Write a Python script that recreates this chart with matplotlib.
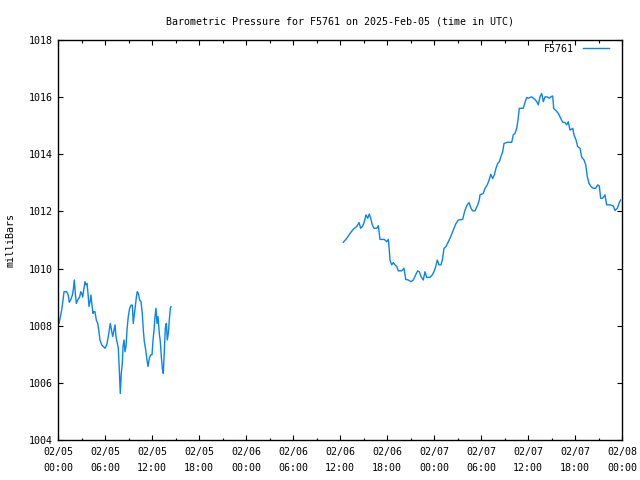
import pandas as pd
import matplotlib
matplotlib.use("Agg")
import matplotlib.pyplot as plt
import matplotlib.dates as mdates

station = "F5761"
start = pd.Timestamp("2025-02-05 00:00")

# hours after 02/05 00:00 UTC, pressure in mbar (first stretch of readings)
seg1_hours = [0.13, 0.47, 0.64, 0.77, 1.11, 1.31, 1.44, 1.62, 1.83, 1.95,
              2.08, 2.21, 2.34, 2.51, 2.76, 2.90, 3.03, 3.15, 3.28, 3.45,
              3.57, 3.70, 3.83, 3.96, 4.09, 4.21, 4.34, 4.47, 4.60, 4.72,
              4.89, 5.07, 5.20, 5.36, 5.58, 5.78, 6.00, 6.22, 6.42, 6.55,
              6.68, 6.86, 6.98, 7.15, 7.28, 7.40, 7.53, 7.70, 7.83, 7.95,
              8.08, 8.21, 8.30, 8.43, 8.55, 8.68, 8.81, 8.97, 9.15, 9.32,
              9.49, 9.61, 9.74, 9.87, 10.00, 10.12, 10.25, 10.43, 10.60, 10.76,
              10.89, 11.02, 11.20, 11.36, 11.49, 11.66, 11.83, 12.00, 12.13, 12.26,
              12.38, 12.51, 12.64, 12.77, 12.93, 13.06, 13.19, 13.32, 13.44, 13.57,
              13.70, 13.83, 13.95, 14.08, 14.21, 14.34, 14.43]
seg1_mbar = [1008.08, 1008.55, 1008.90, 1009.19, 1009.19, 1009.07, 1008.82, 1008.90, 1009.07, 1009.25,
             1009.60, 1009.13, 1008.78, 1008.90, 1009.00, 1009.19, 1009.13, 1009.00, 1009.25, 1009.54,
             1009.43, 1009.48, 1009.13, 1008.67, 1008.84, 1009.07, 1008.72, 1008.43, 1008.49, 1008.49,
             1008.20, 1008.08, 1007.85, 1007.50, 1007.33, 1007.27, 1007.21, 1007.33, 1007.62, 1007.85,
             1008.08, 1007.79, 1007.62, 1007.85, 1008.03, 1007.62, 1007.44, 1007.21, 1006.45, 1005.63,
             1006.33, 1006.68, 1007.27, 1007.50, 1007.09, 1007.27, 1007.85, 1008.32, 1008.61, 1008.72,
             1008.72, 1008.08, 1008.38, 1008.67, 1009.00, 1009.19, 1009.13, 1008.90, 1008.84, 1008.43,
             1007.85, 1007.44, 1007.15, 1006.80, 1006.57, 1006.86, 1006.98, 1006.98, 1007.50, 1007.85,
             1008.32, 1008.61, 1008.08, 1008.32, 1007.73, 1007.44, 1006.92, 1006.51, 1006.33, 1007.09,
             1007.91, 1008.08, 1007.50, 1007.73, 1008.20, 1008.61, 1008.67]

# second stretch, after the gap
seg2_hours = [36.42, 36.86, 37.28, 37.70, 38.13, 38.43, 38.64, 38.90, 39.10, 39.32,
              39.54, 39.74, 39.92, 40.12, 40.34, 40.69, 40.89, 41.11, 41.66, 41.96,
              42.17, 42.29, 42.38, 42.60, 42.80, 43.02, 43.24, 43.44, 43.88, 44.17,
              44.39, 44.72, 45.06, 45.36, 45.66, 45.92, 46.12, 46.34, 46.63, 46.85,
              47.07, 47.49, 47.78, 48.00, 48.22, 48.42, 48.64, 48.89, 49.06, 49.28,
              49.53, 49.83, 50.13, 50.46, 50.77, 51.10, 51.66, 51.96, 52.25, 52.47,
              52.72, 52.94, 53.23, 53.58, 53.78, 53.87, 54.29, 54.51, 54.80, 55.06,
              55.24, 55.49, 55.70, 55.91, 56.13, 56.34, 56.55, 56.77, 56.94, 57.36,
              57.92, 58.12, 58.34, 58.56, 58.72, 58.89, 59.40, 59.58, 59.83, 60.04,
              60.26, 60.47, 60.68, 60.89, 61.11, 61.31, 61.53, 61.75, 61.95, 62.17,
              62.46, 62.72, 62.90, 63.15, 63.28, 63.57, 63.87, 64.17, 64.43, 64.72,
              64.94, 65.14, 65.36, 65.58, 65.71, 65.87, 66.13, 66.34, 66.64, 66.85,
              67.15, 67.37, 67.57, 67.79, 68.04, 68.34, 68.64, 68.90, 69.10, 69.28,
              69.54, 69.83, 70.04, 70.47, 70.89, 71.11, 71.40, 71.66, 71.83]
seg2_mbar = [1010.92, 1011.06, 1011.23, 1011.38, 1011.47, 1011.61, 1011.41, 1011.49, 1011.64, 1011.88,
             1011.76, 1011.91, 1011.76, 1011.53, 1011.41, 1011.41, 1011.50, 1011.02, 1011.02, 1010.94,
             1011.02, 1010.65, 1010.30, 1010.13, 1010.21, 1010.13, 1010.07, 1009.92, 1009.92, 1010.01,
             1009.62, 1009.60, 1009.54, 1009.60, 1009.78, 1009.92, 1009.89, 1009.72, 1009.60, 1009.89,
             1009.69, 1009.69, 1009.78, 1009.89, 1010.07, 1010.30, 1010.13, 1010.13, 1010.30, 1010.71,
             1010.77, 1010.94, 1011.12, 1011.35, 1011.56, 1011.70, 1011.72, 1012.05, 1012.23, 1012.31,
             1012.11, 1012.02, 1012.02, 1012.23, 1012.40, 1012.58, 1012.63, 1012.81, 1012.93, 1013.12,
             1013.30, 1013.15, 1013.28, 1013.51, 1013.68, 1013.74, 1013.92, 1014.09, 1014.38, 1014.42,
             1014.42, 1014.68, 1014.73, 1014.91, 1015.20, 1015.61, 1015.61, 1015.78, 1015.99, 1015.96,
             1015.99, 1016.01, 1015.96, 1015.92, 1015.84, 1015.73, 1016.01, 1016.13, 1015.84, 1016.01,
             1016.01, 1015.96, 1016.01, 1016.04, 1015.61, 1015.53, 1015.43, 1015.26, 1015.12, 1015.11,
             1015.03, 1015.14, 1014.85, 1014.88, 1014.91, 1014.68, 1014.50, 1014.27, 1014.21, 1013.90,
             1013.80, 1013.63, 1013.22, 1012.98, 1012.87, 1012.81, 1012.81, 1012.93, 1012.89, 1012.46,
             1012.46, 1012.58, 1012.23, 1012.23, 1012.19, 1012.03, 1012.11, 1012.31, 1012.40]

y_ticks = [1004, 1006, 1008, 1010, 1012, 1014, 1016, 1018]

plt.rcParams['font.family'] = ['DejaVu Sans Mono']
plt.rcParams['font.size'] = 7.2

line_col = '#0a84f5'

fig = plt.figure(figsize=(6.4, 4.8), dpi=100)
ax = fig.add_axes([58 / 640, 40 / 480, 564 / 640, 400 / 480])

t1 = [start + pd.Timedelta(hours=h) for h in seg1_hours]
t2 = [start + pd.Timedelta(hours=h) for h in seg2_hours]
ax.plot(t1, seg1_mbar, color=line_col, lw=1, label=station)
ax.plot(t2, seg2_mbar, color=line_col, lw=1)

ax.set_xlim(start, start + pd.Timedelta(hours=72))
ax.set_ylim(1004, 1018)
ax.set_yticks(y_ticks)
ax.xaxis.set_major_locator(mdates.HourLocator(byhour=[0, 6, 12, 18]))
ax.xaxis.set_minor_locator(mdates.HourLocator(byhour=[3, 9, 15, 21]))
ax.xaxis.set_major_formatter(mdates.DateFormatter('%m/%d\n%H:%M'))

ax.tick_params(which='major', direction='in', length=3.3, width=0.8,
               top=True, right=True, pad=5, colors='black')
ax.tick_params(axis='y', which='major', pad=4)
ax.tick_params(which='minor', direction='in', length=1.8, width=0.8,
               top=True, right=False)
for lbl in ax.get_xticklabels():
    lbl.set_linespacing(1.7)
for s in ax.spines.values():
    s.set_linewidth(1)

ax.set_ylabel('milliBars', labelpad=9)
ax.set_title('Barometric Pressure for %s on 2025-Feb-05 (time in UTC)' % station,
             fontsize=7.2, pad=11)

ax.legend(loc='upper right', bbox_to_anchor=(1 - 6 / 564, 1 + 3 / 400),
          frameon=False, handlelength=2.6, handletextpad=0.9,
          borderaxespad=0.4, borderpad=0.3, markerfirst=False)

fig.savefig('out.png', dpi=100)
